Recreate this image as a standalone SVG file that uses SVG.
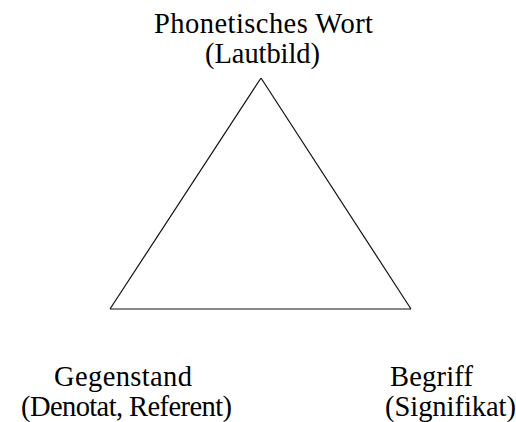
<svg xmlns="http://www.w3.org/2000/svg" width="516" height="422" viewBox="0 0 516 422">
<style>
text{font-family:"Liberation Serif","Times New Roman",serif;font-size:28.5px;fill:#000}
.e{stroke:#111;fill:none;stroke-width:1.2}
</style>
<rect width="516" height="422" fill="#fff"/>
<g id="connectors">
<line class="e" x1="261" y1="78" x2="110" y2="309"/>
<line class="e" x1="261" y1="78" x2="411" y2="309"/>
<line class="e" x1="110" y1="309" x2="411" y2="309" stroke-width="2.2" stroke="#333"/>
</g>
<g id="wort">
<text x="154" y="33" textLength="219">Phonetisches Wort</text>
<text x="205" y="63" textLength="115">(Lautbild)</text>
</g>
<g id="gegenstand">
<text x="54" y="386" textLength="138">Gegenstand</text>
<text x="21" y="416" textLength="211">(Denotat, Referent)</text>
</g>
<g id="begriff">
<text x="390" y="386" textLength="83">Begriff</text>
<text x="385" y="416" textLength="131">(Signifikat)</text>
</g>
</svg>
